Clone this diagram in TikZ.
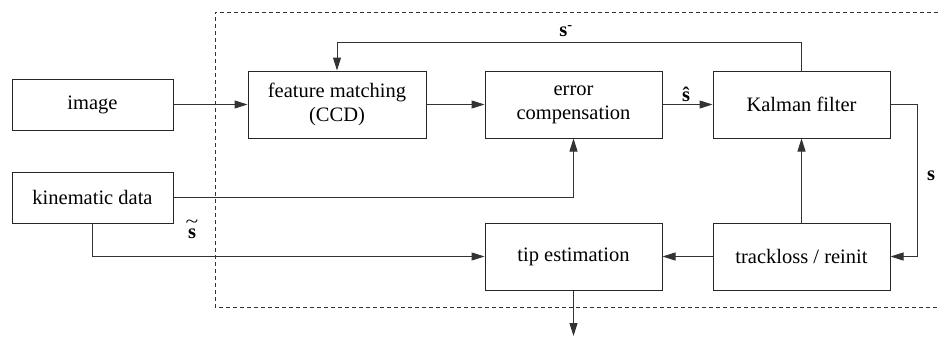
\documentclass[tikz,border=0pt]{standalone}
\usepackage{fontspec}
\setmainfont{Liberation Serif}
\usetikzlibrary{arrows.meta,calc}
\begin{document}
\begin{tikzpicture}[x=1pt,y=-1pt,
  box/.style={draw=black!85,line width=1pt,align=center,inner sep=0pt,
    font=\fontsize{20.5}{24}\selectfont},
  conn/.style={draw=black!80,line width=1pt},
  arr/.style={conn,-{Triangle[length=13pt,width=8pt]}},
  lbl/.style={font=\fontsize{20.5}{24}\selectfont\bfseries,inner sep=0pt}]
\useasboundingbox (0,0) rectangle (939,338);
\draw[black!80,line width=1pt,dash pattern=on 4pt off 3pt] (945,12) -- (215,12) -- (215,307) -- (945,307);
\node[box,minimum width=161pt,minimum height=51pt] (img) at (92.5,104.5) {image};
\node[box,minimum width=161pt,minimum height=51pt] (kin) at (92.5,197.5) {kinematic data};
\node[box,minimum width=178pt,minimum height=67pt] (fm) at (337,104.5) {feature matching\\(CCD)};
\node[box,minimum width=177pt,minimum height=67pt] (ec) at (573.5,104.5) {error\\compensation};
\node[box,minimum width=177pt,minimum height=67pt] (kf) at (801.5,104.5) {Kalman filter};
\node[box,minimum width=177pt,minimum height=67pt] (te) at (573.5,256.5) {tip estimation};
\node[box,minimum width=177pt,minimum height=67pt] (tr) at (801.5,256.5) {trackloss / reinit};
\coordinate (fb) at (801.5,42);
\coordinate (sr) at (917,104.5);
\coordinate (out) at (573.5,336);
\draw[arr] (img.east) -- (fm.west);
\draw[arr] (fm.east) -- (ec.west);
\draw[arr] (ec.east) -- (kf.west);
\draw[arr] (kf.north) -- (fb) -| (fm.north);
\draw[arr] (kf.east) -- (sr) |- (tr.east);
\draw[arr] (tr.north) -- (kf.south);
\draw[arr] (tr.west) -- (te.east);
\draw[arr] (kin.east) -| (ec.south);
\draw[arr] (kin.south) |- (te.west);
\draw[arr] (te.south) -- (out);
\node[lbl] (sm) at (566,31) {s\textsuperscript{-}};
\node[lbl] (sh) at (686,94) {\^{s}};
\node[lbl] (sk) at (931,176) {s};
\node[lbl,align=center] (st) at (192,229) {{\mdseries\fontsize{18}{18}\selectfont\scalebox{1.3}[1]{\textasciitilde}}\\[-13pt]s};
\end{tikzpicture}
\end{document}
